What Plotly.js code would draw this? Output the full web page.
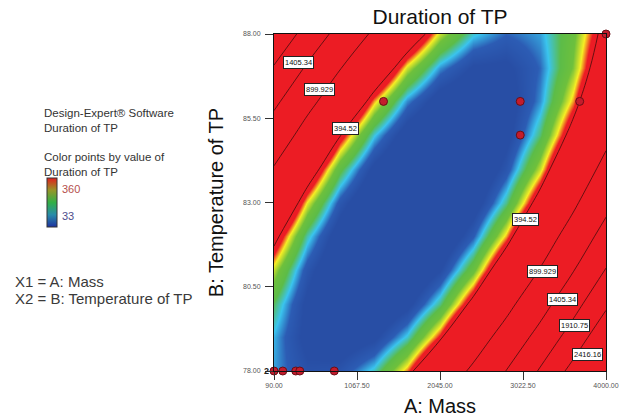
<!DOCTYPE html>
<html>
<head>
<meta charset="utf-8">
<script src="https://cdn.plot.ly/plotly-3.0.1.min.js"></script>
<style>
  html, body { margin: 0; padding: 0; background: #ffffff; }
  #chart { width: 636px; height: 420px; }
</style>
</head>
<body>
<div id="chart"></div>
<script>
// ---- data ----
const massGrid = [90, 481, 872, 1263, 1654, 2045, 2436, 2827, 3218, 3609, 4000];
const tempGrid = [78, 79, 80, 81, 82, 83, 84, 85, 86, 87, 88];
// predicted Duration of TP, one row per temperature (78 -> 88), one column per mass
const durationGrid = [
  [123.0, 48.3, 59.9, 158.0, 342.4, 613.3, 970.6, 1414.2, 1944.3, 2560.7, 3263.6],
  [132.1, 7.3, -31.1, 17.0, 151.4, 372.3, 679.5, 1073.1, 1553.2, 2119.6, 2772.4],
  [187.6, 12.8, -75.6, -77.6, 6.9, 177.7, 434.9, 778.5, 1208.5, 1724.9, 2327.7],
  [289.6, 64.8, -73.6, -125.6, -91.2, 29.6, 236.7, 530.3, 910.3, 1376.7, 1929.5],
  [438.1, 163.2, -25.2, -127.2, -142.9, -72.1, 85.1, 328.6, 658.6, 1075.0, 1577.7],
  [633.0, 308.1, 69.7, -82.4, -148.0, -127.3, -20.2, 173.4, 453.3, 819.7, 1272.4],
  [874.4, 499.5, 211.0, 8.9, -106.8, -136.0, -78.9, 64.6, 294.5, 610.8, 1013.6],
  [1162.3, 737.3, 398.8, 146.7, -19.0, -98.3, -91.2, 2.3, 182.2, 448.5, 801.2],
  [1496.6, 1021.6, 633.1, 331.0, 115.2, -14.1, -57.0, -13.6, 116.3, 332.6, 635.3],
  [1877.4, 1352.4, 913.8, 561.7, 295.9, 116.6, 23.6, 17.1, 96.9, 263.2, 515.8],
  [2304.6, 1729.6, 1241.0, 838.9, 523.1, 293.7, 150.7, 94.1, 124.0, 240.2, 442.8]
];
const contourLevels = [394.52, 899.929, 1405.34, 1910.75, 2416.16];
const colorRange = [33, 360];

// design points
const pointMass = [90, 193, 346, 394, 800, 1380, 2990, 2990, 3690, 4000];
const pointTemp = [78, 78, 78, 78, 78, 86, 86, 85, 86, 88];

// contour labels
const labelText = ['1405.34', '899.929', '394.52', '394.52', '899.929', '1405.34', '1910.75', '2416.16'];
const labelMass = [379, 627, 933, 3057, 3257, 3487, 3634, 3782];
const labelTemp = [87.14, 86.34, 85.21, 82.51, 80.94, 80.12, 79.36, 78.49];

// axis ticks
const massTicks = [90, 1067.5, 2045, 3022.5, 4000];
const tempTicks = [78, 80.5, 83, 85.5, 88];

// ---- styling ----
const FONT = 'Liberation Sans, Arial, Helvetica, sans-serif';
const W = 636, H = 420;
const M = { l: 274, r: 30, t: 34, b: 49 };
const pw = W - M.l - M.r, ph = H - M.t - M.b;
const px2paperX = p => (p - M.l) / pw;
const px2paperY = p => (H - M.b - p) / ph;

const surfaceScale = [
  [0.00, 'rgb(40,78,165)'],
  [0.18, 'rgb(44,92,180)'],
  [0.33, 'rgb(58,196,238)'],
  [0.50, 'rgb(92,188,72)'],
  [0.68, 'rgb(110,192,60)'],
  [0.86, 'rgb(246,238,36)'],
  [1.00, 'rgb(236,28,36)']
];

const traces = [
  {
    type: 'heatmap',
    x: massGrid, y: tempGrid, z: durationGrid,
    zsmooth: 'best',
    zmin: colorRange[0], zmax: colorRange[1],
    colorscale: surfaceScale,
    showscale: false,
    hoverinfo: 'skip'
  },
  {
    type: 'contour',
    x: massGrid, y: tempGrid, z: durationGrid,
    autocontour: false,
    contours: {
      start: contourLevels[0],
      end: contourLevels[contourLevels.length - 1],
      size: contourLevels[1] - contourLevels[0],
      coloring: 'lines',
      showlabels: false
    },
    colorscale: [[0, 'rgba(70,12,12,0.8)'], [1, 'rgba(70,12,12,0.8)']],
    line: { width: 1, smoothing: 1.2 },
    showscale: false,
    hoverinfo: 'skip'
  },
  {
    type: 'scatter', mode: 'markers',
    x: pointMass, y: pointTemp,
    marker: { size: 8, color: 'rgb(196,28,44)', line: { width: 1, color: 'rgb(105,15,22)' } },
    cliponaxis: false,
    hoverinfo: 'x+y',
    showlegend: false
  },
  {
    type: 'scatter', mode: 'markers',
    x: [pointMass[0], pointMass[0]], y: [pointTemp[0], pointTemp[0]],
    marker: {
      size: 1, opacity: 0,
      color: colorRange, cmin: colorRange[0], cmax: colorRange[1],
      colorscale: [[0, 'rgb(30,50,160)'], [0.25, 'rgb(40,140,170)'], [0.5, 'rgb(50,175,70)'], [0.75, 'rgb(150,150,40)'], [1, 'rgb(225,30,30)']],
      showscale: true,
      colorbar: {
        x: px2paperX(47), xanchor: 'left',
        y: px2paperY(178), yanchor: 'top',
        len: 49, lenmode: 'pixels',
        thickness: 10, thicknessmode: 'pixels',
        xpad: 0, ypad: 0,
        outlinewidth: 1, outlinecolor: '#333',
        showticklabels: false, ticks: ''
      }
    },
    hoverinfo: 'skip',
    showlegend: false
  }
];

const annotations = [];
for (let i = 0; i < labelText.length; i++) {
  annotations.push({
    x: labelMass[i], y: labelTemp[i], xref: 'x', yref: 'y',
    text: labelText[i], showarrow: false,
    font: { family: FONT, size: 7.5, color: '#111' },
    bgcolor: '#ffffff', bordercolor: '#222', borderwidth: 1, borderpad: 1
  });
}
annotations.push({
  x: pointMass[0], y: pointTemp[0], xref: 'x', yref: 'y',
  text: '<b>2</b>', showarrow: false, xanchor: 'right', xshift: -3,
  font: { family: FONT, size: 9, color: '#222' }
});
const sideText = [
  ['Design-Expert® Software<br>Duration of TP', 43, 120, 11.5, '#333'],
  ['Color points by value of<br>Duration of TP', 43, 164, 11.5, '#333'],
  ['360', 61, 189, 11, '#b5504c'],
  ['33', 61, 216, 11, '#4d4d8c'],
  ['X1 = A: Mass', 14, 281, 15, '#3a3a3a'],
  ['X2 = B: Temperature of TP', 14, 298, 15, '#3a3a3a']
];
sideText.forEach(s => {
  annotations.push({
    x: px2paperX(s[1]), y: px2paperY(s[2]), xref: 'paper', yref: 'paper',
    xanchor: 'left', yanchor: 'middle', align: 'left', showarrow: false,
    borderpad: 0,
    text: s[0], font: { family: FONT, size: s[3], color: s[4] }
  });
});

const axisCommon = {
  showgrid: false, zeroline: false,
  showline: true, mirror: true, linecolor: '#111', linewidth: 1,
  ticks: 'outside', ticklen: 8, tickcolor: '#333', tickwidth: 1,
  tickformat: '.2f',
  tickfont: { family: FONT, size: 7, color: '#555' }
};

const layout = {
  width: W, height: H,
  margin: M,
  paper_bgcolor: '#ffffff', plot_bgcolor: '#ffffff',
  font: { family: FONT, color: '#111' },
  showlegend: false,
  title: {
    text: 'Duration of TP',
    font: { family: FONT, size: 21, color: '#111' },
    x: 0.5, xref: 'paper', xanchor: 'center',
    y: 1 - 17 / H, yref: 'container', yanchor: 'middle'
  },
  xaxis: Object.assign({}, axisCommon, {
    range: [massTicks[0], massTicks[massTicks.length - 1]],
    tickmode: 'array', tickvals: massTicks,
    title: { text: 'A: Mass', font: { family: FONT, size: 20, color: '#111' }, standoff: 10 }
  }),
  yaxis: Object.assign({}, axisCommon, {
    range: [tempTicks[0], tempTicks[tempTicks.length - 1]],
    tickmode: 'array', tickvals: tempTicks,
    ticklabelstandoff: 3,
    title: { text: 'B: Temperature of TP', font: { family: FONT, size: 20, color: '#111' }, standoff: 14 }
  }),
  annotations: annotations
};

Plotly.newPlot('chart', traces, layout, { displayModeBar: false, staticPlot: true });
</script>
</body>
</html>
